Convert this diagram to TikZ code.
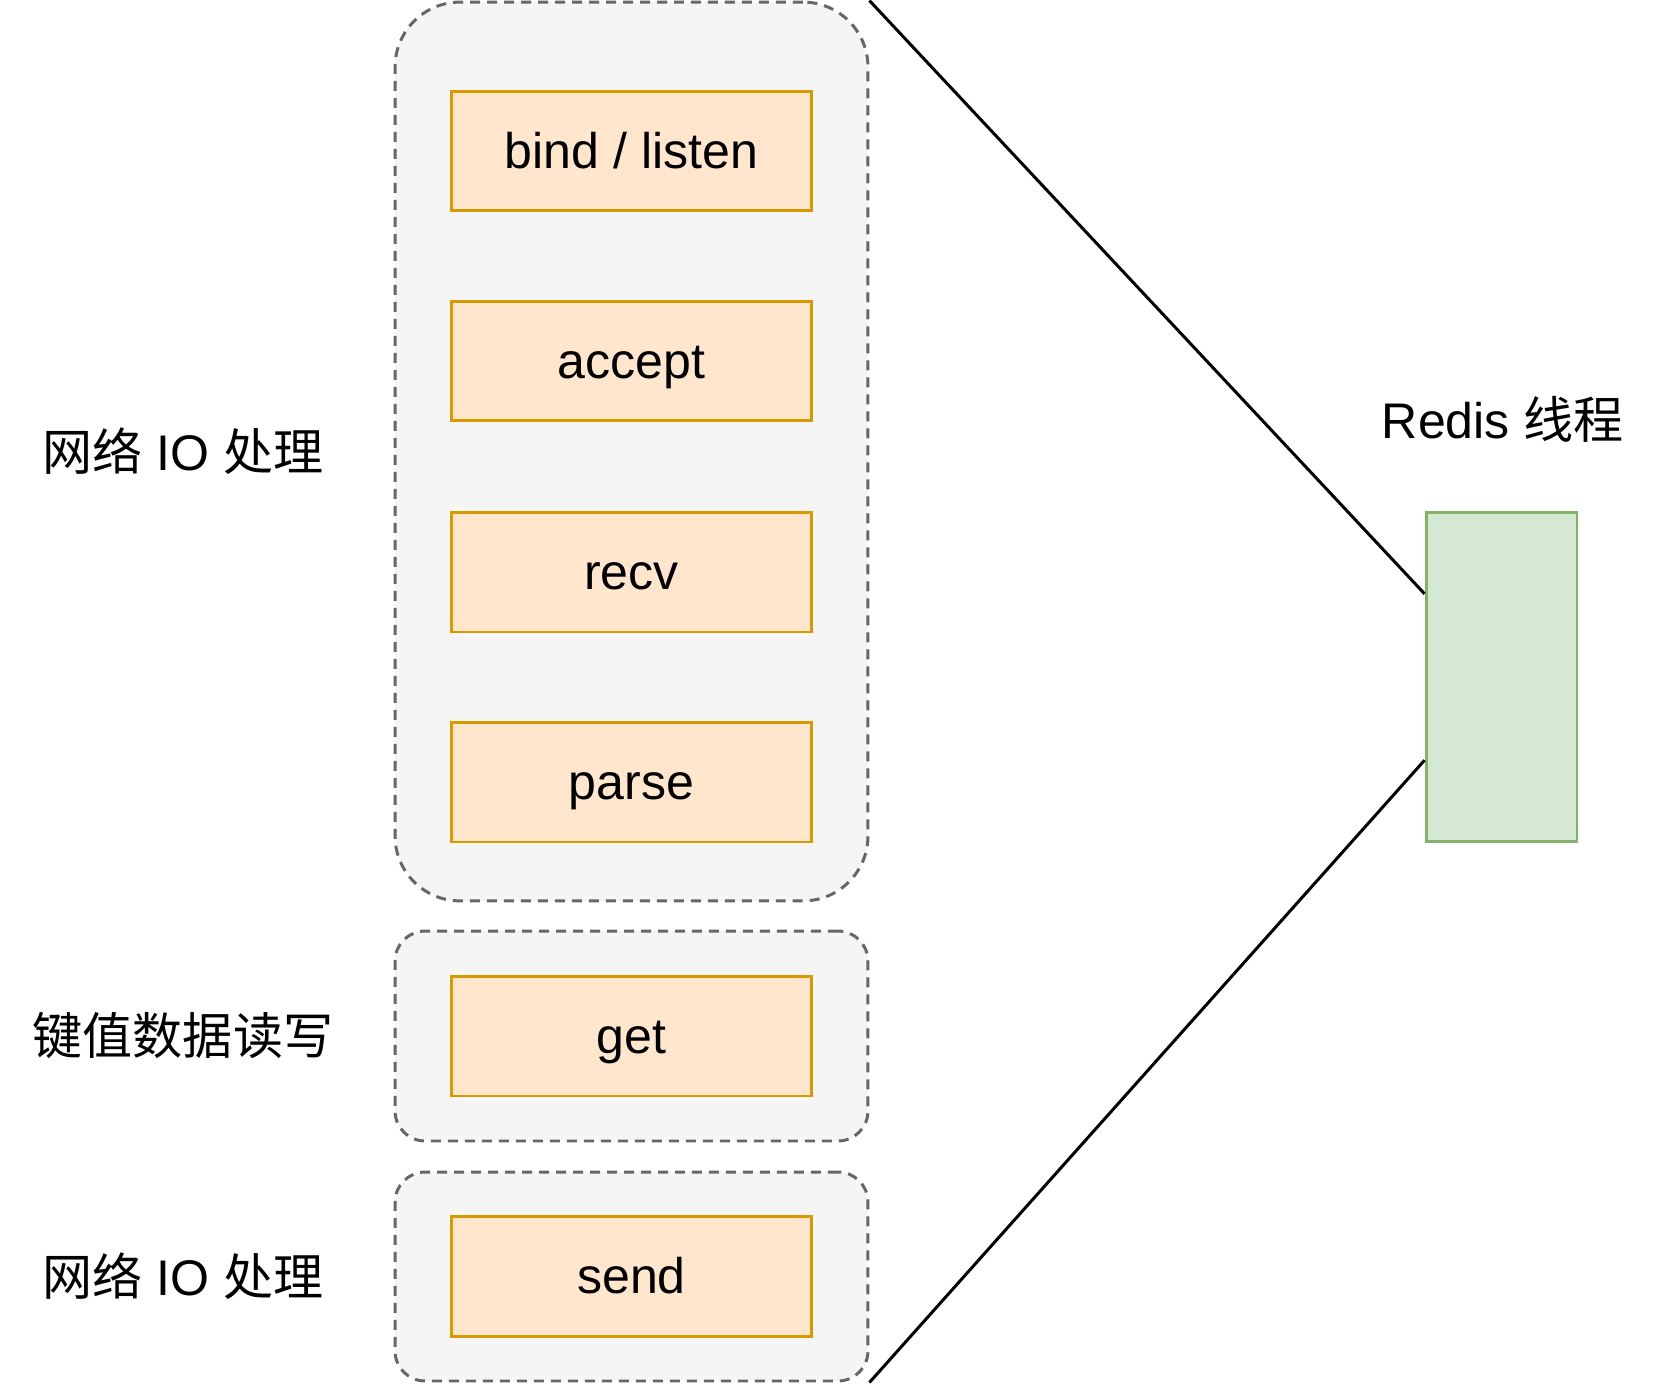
\documentclass[tikz,border=0pt]{standalone}
\usepackage{fontspec}
\setmainfont{Liberation Sans}
\newfontfamily\cjk{Noto Sans CJK SC}
\usetikzlibrary{calc}
\definecolor{opfill}{HTML}{FFE6CC}
\definecolor{opline}{HTML}{D79B00}
\definecolor{grpfill}{HTML}{F5F5F5}
\definecolor{grpline}{HTML}{666666}
\definecolor{thrfill}{HTML}{D5E8D4}
\definecolor{thrline}{HTML}{82B366}
\tikzset{
  op/.style={draw=opline, fill=opfill, line width=1.7pt, minimum width=7.22cm,
    minimum height=2.4cm, inner sep=0pt, text height=25.6pt, text depth=5.7pt},
  grp/.style={draw=grpline, fill=grpfill, dash pattern=on 0.2cm off 0.14cm,
    line width=1.7pt, minimum width=9.46cm, inner sep=0pt},
  lbl/.style={inner sep=0pt}
}
\begin{document}
\begin{tikzpicture}[x=0.02cm, y=-0.02cm, font=\fontsize{28.5}{34}\selectfont]
\useasboundingbox (0,0) rectangle (1653,1386);
\node[grp, minimum height=17.98cm, rounded corners=1.3cm] (io1) at (631.5, 451.5) {};
\node[grp, minimum height=4.2cm, rounded corners=0.6cm] (kv) at (631.5, 1036) {};
\node[grp, minimum height=4.18cm, rounded corners=0.6cm] (io2) at (631.5, 1276.5) {};
\node[op] (bind) at (631.5, 151) {bind / listen};
\node[op] (accept) at (631.5, 361) {accept};
\node[op] (recv) at (631.5, 572) {recv};
\node[op] (parse) at (631.5, 782) {parse};
\node[op] (get) at (631.5, 1036) {get};
\node[op] (send) at (631.5, 1276.5) {send};
\node[draw=thrline, fill=thrfill, line width=1.7pt, minimum width=3.02cm,
  minimum height=6.6cm, inner sep=0pt] (thread) at (1501.5, 677) {};
\node[lbl] (l1) at (183, 451.5) {{\cjk 网络} IO {\cjk 处理}};
\node[lbl] (l2) at (183, 1036) {\cjk 键值数据读写};
\node[lbl] (l3) at (183, 1276.5) {{\cjk 网络} IO {\cjk 处理}};
\node[lbl] (tname) at (1503, 419) {Redis {\cjk 线程}};
\draw[line width=1.7pt] (io1.north east) -- ($(thread.north west)!0.25!(thread.south west)$);
\draw[line width=1.7pt] (io2.south east) -- ($(thread.north west)!0.75!(thread.south west)$);
\end{tikzpicture}
\end{document}
